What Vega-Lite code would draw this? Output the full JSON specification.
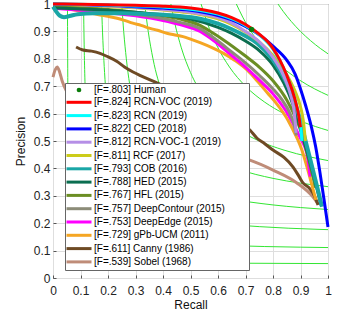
{
 "$schema": "https://vega.github.io/schema/vega-lite/v6.json",
 "width": 275,
 "height": 274,
 "autosize": {"type": "none"},
 "padding": {"left": 53, "top": 4, "right": 31, "bottom": 33},
 "config": {
  "view": {"stroke": "#555555", "strokeWidth": 1},
  "font": "Liberation Sans",
  "axis": {"labelFont": "Liberation Sans", "titleFont": "Liberation Sans", "labelFontSize": 12, "titleFontSize": 12, "titleFontWeight": "normal", "labelColor": "#222222", "titleColor": "#111111", "gridColor": "#dedede", "domain": false, "tickColor": "#555555", "tickSize": -3, "labelFlush": false, "labelOverlap": false, "tickCount": 11}
 },
 "datasets": {
  "iso": [
   {"f":0.1,"r":0.0526,"p":1},{"f":0.1,"r":0.0539,"p":0.7},{"f":0.1,"r":0.0563,"p":0.45},{"f":0.1,"r":0.0593,"p":0.32},{"f":0.1,"r":0.0625,"p":0.25},{"f":0.1,"r":0.0667,"p":0.2},{"f":0.1,"r":0.0727,"p":0.16},{"f":0.1,"r":0.0794,"p":0.135},{"f":0.1,"r":0.0885,"p":0.115},{"f":0.1,"r":0.1,"p":0.1},{"f":0.1,"r":0.115,"p":0.0885},{"f":0.1,"r":0.135,"p":0.0794},{"f":0.1,"r":0.16,"p":0.0727},{"f":0.1,"r":0.2,"p":0.0667},{"f":0.1,"r":0.25,"p":0.0625},{"f":0.1,"r":0.32,"p":0.0593},{"f":0.1,"r":0.45,"p":0.0563},{"f":0.1,"r":0.7,"p":0.0539},{"f":0.1,"r":1,"p":0.0526},
   {"f":0.2,"r":0.1111,"p":1},{"f":0.2,"r":0.1125,"p":0.9},{"f":0.2,"r":0.1185,"p":0.64},{"f":0.2,"r":0.125,"p":0.5},{"f":0.2,"r":0.1333,"p":0.4},{"f":0.2,"r":0.1455,"p":0.32},{"f":0.2,"r":0.1588,"p":0.27},{"f":0.2,"r":0.1769,"p":0.23},{"f":0.2,"r":0.2,"p":0.2},{"f":0.2,"r":0.23,"p":0.1769},{"f":0.2,"r":0.27,"p":0.1588},{"f":0.2,"r":0.32,"p":0.1455},{"f":0.2,"r":0.4,"p":0.1333},{"f":0.2,"r":0.5,"p":0.125},{"f":0.2,"r":0.64,"p":0.1185},{"f":0.2,"r":0.9,"p":0.1125},{"f":0.2,"r":1,"p":0.1111},
   {"f":0.3,"r":0.1765,"p":1},{"f":0.3,"r":0.1778,"p":0.96},{"f":0.3,"r":0.1875,"p":0.75},{"f":0.3,"r":0.2,"p":0.6},{"f":0.3,"r":0.2182,"p":0.48},{"f":0.3,"r":0.2382,"p":0.405},{"f":0.3,"r":0.2654,"p":0.345},{"f":0.3,"r":0.3,"p":0.3},{"f":0.3,"r":0.345,"p":0.2654},{"f":0.3,"r":0.405,"p":0.2382},{"f":0.3,"r":0.48,"p":0.2182},{"f":0.3,"r":0.6,"p":0.2},{"f":0.3,"r":0.75,"p":0.1875},{"f":0.3,"r":0.96,"p":0.1778},{"f":0.3,"r":1,"p":0.1765},
   {"f":0.4,"r":0.25,"p":1},{"f":0.4,"r":0.2571,"p":0.9},{"f":0.4,"r":0.2667,"p":0.8},{"f":0.4,"r":0.2909,"p":0.64},{"f":0.4,"r":0.3176,"p":0.54},{"f":0.4,"r":0.3538,"p":0.46},{"f":0.4,"r":0.4,"p":0.4},{"f":0.4,"r":0.46,"p":0.3538},{"f":0.4,"r":0.54,"p":0.3176},{"f":0.4,"r":0.64,"p":0.2909},{"f":0.4,"r":0.8,"p":0.2667},{"f":0.4,"r":0.9,"p":0.2571},{"f":0.4,"r":1,"p":0.25},
   {"f":0.5,"r":0.3333,"p":1},{"f":0.5,"r":0.3462,"p":0.9},{"f":0.5,"r":0.3636,"p":0.8},{"f":0.5,"r":0.3971,"p":0.675},{"f":0.5,"r":0.4423,"p":0.575},{"f":0.5,"r":0.5,"p":0.5},{"f":0.5,"r":0.575,"p":0.4423},{"f":0.5,"r":0.675,"p":0.3971},{"f":0.5,"r":0.8,"p":0.3636},{"f":0.5,"r":0.9,"p":0.3462},{"f":0.5,"r":1,"p":0.3333},
   {"f":0.6,"r":0.4286,"p":1},{"f":0.6,"r":0.4429,"p":0.93},{"f":0.6,"r":0.4667,"p":0.84},{"f":0.6,"r":0.5,"p":0.75},{"f":0.6,"r":0.55,"p":0.66},{"f":0.6,"r":0.6,"p":0.6},{"f":0.6,"r":0.66,"p":0.55},{"f":0.6,"r":0.75,"p":0.5},{"f":0.6,"r":0.84,"p":0.4667},{"f":0.6,"r":0.93,"p":0.4429},{"f":0.6,"r":1,"p":0.4286},
   {"f":0.7,"r":0.5385,"p":1},{"f":0.7,"r":0.5688,"p":0.91},{"f":0.7,"r":0.6,"p":0.84},{"f":0.7,"r":0.6417,"p":0.77},{"f":0.7,"r":0.7,"p":0.7},{"f":0.7,"r":0.77,"p":0.6417},{"f":0.7,"r":0.84,"p":0.6},{"f":0.7,"r":0.91,"p":0.5688},{"f":0.7,"r":1,"p":0.5385},
   {"f":0.8,"r":0.6667,"p":1},{"f":0.8,"r":0.6899,"p":0.952},{"f":0.8,"r":0.7226,"p":0.896},{"f":0.8,"r":0.7571,"p":0.848},{"f":0.8,"r":0.8,"p":0.8},{"f":0.8,"r":0.848,"p":0.7571},{"f":0.8,"r":0.896,"p":0.7226},{"f":0.8,"r":0.952,"p":0.6899},{"f":0.8,"r":1,"p":0.6667},
   {"f":0.9,"r":0.8182,"p":1},{"f":0.9,"r":0.8379,"p":0.972},{"f":0.9,"r":0.8667,"p":0.936},{"f":0.9,"r":0.9,"p":0.9},{"f":0.9,"r":0.936,"p":0.8667},{"f":0.9,"r":0.972,"p":0.8379},{"f":0.9,"r":1,"p":0.8182}
  ],
  "pr": [
   {"n":"[F=.539] Sobel (1968)","r":0,"p":0.733},{"n":"[F=.539] Sobel (1968)","r":0.008,"p":0.76},{"n":"[F=.539] Sobel (1968)","r":0.015,"p":0.77},{"n":"[F=.539] Sobel (1968)","r":0.024,"p":0.752},{"n":"[F=.539] Sobel (1968)","r":0.033,"p":0.72},{"n":"[F=.539] Sobel (1968)","r":0.05,"p":0.68},{"n":"[F=.539] Sobel (1968)","r":0.1,"p":0.62},{"n":"[F=.539] Sobel (1968)","r":0.2,"p":0.56},{"n":"[F=.539] Sobel (1968)","r":0.3,"p":0.525},{"n":"[F=.539] Sobel (1968)","r":0.4,"p":0.5},{"n":"[F=.539] Sobel (1968)","r":0.5,"p":0.48},{"n":"[F=.539] Sobel (1968)","r":0.6,"p":0.46},{"n":"[F=.539] Sobel (1968)","r":0.716,"p":0.43},{"n":"[F=.539] Sobel (1968)","r":0.8,"p":0.394},{"n":"[F=.539] Sobel (1968)","r":0.887,"p":0.347},{"n":"[F=.539] Sobel (1968)","r":0.945,"p":0.296},{"n":"[F=.539] Sobel (1968)","r":0.964,"p":0.27},
   {"n":"[F=.611] Canny (1986)","r":0.084,"p":0.843},{"n":"[F=.611] Canny (1986)","r":0.109,"p":0.832},{"n":"[F=.611] Canny (1986)","r":0.14,"p":0.828},{"n":"[F=.611] Canny (1986)","r":0.171,"p":0.82},{"n":"[F=.611] Canny (1986)","r":0.2,"p":0.807},{"n":"[F=.611] Canny (1986)","r":0.233,"p":0.79},{"n":"[F=.611] Canny (1986)","r":0.26,"p":0.77},{"n":"[F=.611] Canny (1986)","r":0.291,"p":0.752},{"n":"[F=.611] Canny (1986)","r":0.32,"p":0.738},{"n":"[F=.611] Canny (1986)","r":0.353,"p":0.723},{"n":"[F=.611] Canny (1986)","r":0.378,"p":0.712},{"n":"[F=.611] Canny (1986)","r":0.45,"p":0.68},{"n":"[F=.611] Canny (1986)","r":0.55,"p":0.63},{"n":"[F=.611] Canny (1986)","r":0.65,"p":0.575},{"n":"[F=.611] Canny (1986)","r":0.716,"p":0.54},{"n":"[F=.611] Canny (1986)","r":0.742,"p":0.51},{"n":"[F=.611] Canny (1986)","r":0.77,"p":0.49},{"n":"[F=.611] Canny (1986)","r":0.8,"p":0.467},{"n":"[F=.611] Canny (1986)","r":0.84,"p":0.44},{"n":"[F=.611] Canny (1986)","r":0.873,"p":0.405},{"n":"[F=.611] Canny (1986)","r":0.895,"p":0.37},{"n":"[F=.611] Canny (1986)","r":0.909,"p":0.347},{"n":"[F=.611] Canny (1986)","r":0.93,"p":0.33},{"n":"[F=.611] Canny (1986)","r":0.945,"p":0.31},{"n":"[F=.611] Canny (1986)","r":0.955,"p":0.29},{"n":"[F=.611] Canny (1986)","r":0.964,"p":0.266},
   {"n":"[F=.729] gPb-UCM (2011)","r":0.02,"p":1},{"n":"[F=.729] gPb-UCM (2011)","r":0.036,"p":0.99},{"n":"[F=.729] gPb-UCM (2011)","r":0.07,"p":0.98},{"n":"[F=.729] gPb-UCM (2011)","r":0.109,"p":0.972},{"n":"[F=.729] gPb-UCM (2011)","r":0.14,"p":0.966},{"n":"[F=.729] gPb-UCM (2011)","r":0.171,"p":0.96},{"n":"[F=.729] gPb-UCM (2011)","r":0.2,"p":0.955},{"n":"[F=.729] gPb-UCM (2011)","r":0.233,"p":0.948},{"n":"[F=.729] gPb-UCM (2011)","r":0.26,"p":0.94},{"n":"[F=.729] gPb-UCM (2011)","r":0.29,"p":0.93},{"n":"[F=.729] gPb-UCM (2011)","r":0.32,"p":0.922},{"n":"[F=.729] gPb-UCM (2011)","r":0.353,"p":0.911},{"n":"[F=.729] gPb-UCM (2011)","r":0.38,"p":0.904},{"n":"[F=.729] gPb-UCM (2011)","r":0.414,"p":0.893},{"n":"[F=.729] gPb-UCM (2011)","r":0.44,"p":0.888},{"n":"[F=.729] gPb-UCM (2011)","r":0.473,"p":0.881},{"n":"[F=.729] gPb-UCM (2011)","r":0.5,"p":0.872},{"n":"[F=.729] gPb-UCM (2011)","r":0.535,"p":0.859},{"n":"[F=.729] gPb-UCM (2011)","r":0.58,"p":0.84},{"n":"[F=.729] gPb-UCM (2011)","r":0.62,"p":0.82},{"n":"[F=.729] gPb-UCM (2011)","r":0.66,"p":0.795},{"n":"[F=.729] gPb-UCM (2011)","r":0.705,"p":0.76},{"n":"[F=.729] gPb-UCM (2011)","r":0.746,"p":0.715},{"n":"[F=.729] gPb-UCM (2011)","r":0.78,"p":0.675},{"n":"[F=.729] gPb-UCM (2011)","r":0.81,"p":0.64},{"n":"[F=.729] gPb-UCM (2011)","r":0.836,"p":0.605},{"n":"[F=.729] gPb-UCM (2011)","r":0.855,"p":0.575},{"n":"[F=.729] gPb-UCM (2011)","r":0.873,"p":0.54},{"n":"[F=.729] gPb-UCM (2011)","r":0.89,"p":0.505},{"n":"[F=.729] gPb-UCM (2011)","r":0.905,"p":0.467},{"n":"[F=.729] gPb-UCM (2011)","r":0.925,"p":0.4},{"n":"[F=.729] gPb-UCM (2011)","r":0.94,"p":0.345},{"n":"[F=.729] gPb-UCM (2011)","r":0.956,"p":0.285},
   {"n":"[F=.753] DeepEdge (2015)","r":0,"p":0.985},{"n":"[F=.753] DeepEdge (2015)","r":0.1,"p":0.977},{"n":"[F=.753] DeepEdge (2015)","r":0.2,"p":0.968},{"n":"[F=.753] DeepEdge (2015)","r":0.3,"p":0.957},{"n":"[F=.753] DeepEdge (2015)","r":0.4,"p":0.94},{"n":"[F=.753] DeepEdge (2015)","r":0.462,"p":0.925},{"n":"[F=.753] DeepEdge (2015)","r":0.535,"p":0.9},{"n":"[F=.753] DeepEdge (2015)","r":0.585,"p":0.866},{"n":"[F=.753] DeepEdge (2015)","r":0.65,"p":0.812},{"n":"[F=.753] DeepEdge (2015)","r":0.7,"p":0.77},{"n":"[F=.753] DeepEdge (2015)","r":0.75,"p":0.722},{"n":"[F=.753] DeepEdge (2015)","r":0.8,"p":0.672},{"n":"[F=.753] DeepEdge (2015)","r":0.818,"p":0.65},{"n":"[F=.753] DeepEdge (2015)","r":0.85,"p":0.605},{"n":"[F=.753] DeepEdge (2015)","r":0.88,"p":0.55},{"n":"[F=.753] DeepEdge (2015)","r":0.9,"p":0.51},{"n":"[F=.753] DeepEdge (2015)","r":0.915,"p":0.48},{"n":"[F=.753] DeepEdge (2015)","r":0.923,"p":0.455},{"n":"[F=.753] DeepEdge (2015)","r":0.93,"p":0.41},{"n":"[F=.753] DeepEdge (2015)","r":0.935,"p":0.37},
   {"n":"[F=.757] DeepContour (2015)","r":0,"p":0.99},{"n":"[F=.757] DeepContour (2015)","r":0.1,"p":0.983},{"n":"[F=.757] DeepContour (2015)","r":0.2,"p":0.973},{"n":"[F=.757] DeepContour (2015)","r":0.3,"p":0.962},{"n":"[F=.757] DeepContour (2015)","r":0.4,"p":0.947},{"n":"[F=.757] DeepContour (2015)","r":0.462,"p":0.933},{"n":"[F=.757] DeepContour (2015)","r":0.535,"p":0.91},{"n":"[F=.757] DeepContour (2015)","r":0.59,"p":0.872},{"n":"[F=.757] DeepContour (2015)","r":0.65,"p":0.825},{"n":"[F=.757] DeepContour (2015)","r":0.7,"p":0.785},{"n":"[F=.757] DeepContour (2015)","r":0.75,"p":0.74},{"n":"[F=.757] DeepContour (2015)","r":0.8,"p":0.69},{"n":"[F=.757] DeepContour (2015)","r":0.833,"p":0.65},{"n":"[F=.757] DeepContour (2015)","r":0.86,"p":0.605},{"n":"[F=.757] DeepContour (2015)","r":0.875,"p":0.565},{"n":"[F=.757] DeepContour (2015)","r":0.885,"p":0.52},
   {"n":"[F=.767] HFL (2015)","r":0,"p":0.99},{"n":"[F=.767] HFL (2015)","r":0.1,"p":0.987},{"n":"[F=.767] HFL (2015)","r":0.2,"p":0.98},{"n":"[F=.767] HFL (2015)","r":0.3,"p":0.97},{"n":"[F=.767] HFL (2015)","r":0.4,"p":0.957},{"n":"[F=.767] HFL (2015)","r":0.462,"p":0.945},{"n":"[F=.767] HFL (2015)","r":0.535,"p":0.922},{"n":"[F=.767] HFL (2015)","r":0.58,"p":0.895},{"n":"[F=.767] HFL (2015)","r":0.62,"p":0.869},{"n":"[F=.767] HFL (2015)","r":0.7,"p":0.81},{"n":"[F=.767] HFL (2015)","r":0.75,"p":0.77},{"n":"[F=.767] HFL (2015)","r":0.8,"p":0.72},{"n":"[F=.767] HFL (2015)","r":0.85,"p":0.65},{"n":"[F=.767] HFL (2015)","r":0.88,"p":0.59},{"n":"[F=.767] HFL (2015)","r":0.9,"p":0.54},{"n":"[F=.767] HFL (2015)","r":0.92,"p":0.47},{"n":"[F=.767] HFL (2015)","r":0.94,"p":0.39},{"n":"[F=.767] HFL (2015)","r":0.955,"p":0.33},
   {"n":"[F=.788] HED (2015)","r":0,"p":0.985},{"n":"[F=.788] HED (2015)","r":0.1,"p":0.982},{"n":"[F=.788] HED (2015)","r":0.2,"p":0.977},{"n":"[F=.788] HED (2015)","r":0.3,"p":0.97},{"n":"[F=.788] HED (2015)","r":0.4,"p":0.96},{"n":"[F=.788] HED (2015)","r":0.5,"p":0.945},{"n":"[F=.788] HED (2015)","r":0.6,"p":0.915},{"n":"[F=.788] HED (2015)","r":0.65,"p":0.893},{"n":"[F=.788] HED (2015)","r":0.7,"p":0.865},{"n":"[F=.788] HED (2015)","r":0.75,"p":0.83},{"n":"[F=.788] HED (2015)","r":0.8,"p":0.777},{"n":"[F=.788] HED (2015)","r":0.84,"p":0.71},{"n":"[F=.788] HED (2015)","r":0.87,"p":0.64},{"n":"[F=.788] HED (2015)","r":0.89,"p":0.58},{"n":"[F=.788] HED (2015)","r":0.91,"p":0.51},{"n":"[F=.788] HED (2015)","r":0.93,"p":0.44},{"n":"[F=.788] HED (2015)","r":0.95,"p":0.365},{"n":"[F=.788] HED (2015)","r":0.965,"p":0.305},{"n":"[F=.788] HED (2015)","r":0.975,"p":0.265},
   {"n":"[F=.793] COB (2016)","r":0,"p":0.99},{"n":"[F=.793] COB (2016)","r":0.01,"p":0.975},{"n":"[F=.793] COB (2016)","r":0.025,"p":0.957},{"n":"[F=.793] COB (2016)","r":0.04,"p":0.952},{"n":"[F=.793] COB (2016)","r":0.06,"p":0.956},{"n":"[F=.793] COB (2016)","r":0.09,"p":0.963},{"n":"[F=.793] COB (2016)","r":0.15,"p":0.966},{"n":"[F=.793] COB (2016)","r":0.25,"p":0.966},{"n":"[F=.793] COB (2016)","r":0.35,"p":0.963},{"n":"[F=.793] COB (2016)","r":0.45,"p":0.957},{"n":"[F=.793] COB (2016)","r":0.535,"p":0.946},{"n":"[F=.793] COB (2016)","r":0.6,"p":0.928},{"n":"[F=.793] COB (2016)","r":0.65,"p":0.908},{"n":"[F=.793] COB (2016)","r":0.7,"p":0.883},{"n":"[F=.793] COB (2016)","r":0.742,"p":0.857},{"n":"[F=.793] COB (2016)","r":0.8,"p":0.795},{"n":"[F=.793] COB (2016)","r":0.836,"p":0.737},{"n":"[F=.793] COB (2016)","r":0.87,"p":0.665},{"n":"[F=.793] COB (2016)","r":0.89,"p":0.607},{"n":"[F=.793] COB (2016)","r":0.905,"p":0.555},{"n":"[F=.793] COB (2016)","r":0.916,"p":0.51},{"n":"[F=.793] COB (2016)","r":0.935,"p":0.435},{"n":"[F=.793] COB (2016)","r":0.95,"p":0.375},{"n":"[F=.793] COB (2016)","r":0.965,"p":0.315},{"n":"[F=.793] COB (2016)","r":0.978,"p":0.26},
   {"n":"[F=.811] RCF (2017)","r":0,"p":1},{"n":"[F=.811] RCF (2017)","r":0.1,"p":0.996},{"n":"[F=.811] RCF (2017)","r":0.2,"p":0.991},{"n":"[F=.811] RCF (2017)","r":0.3,"p":0.986},{"n":"[F=.811] RCF (2017)","r":0.4,"p":0.978},{"n":"[F=.811] RCF (2017)","r":0.47,"p":0.971},{"n":"[F=.811] RCF (2017)","r":0.535,"p":0.962},{"n":"[F=.811] RCF (2017)","r":0.6,"p":0.946},{"n":"[F=.811] RCF (2017)","r":0.65,"p":0.926},{"n":"[F=.811] RCF (2017)","r":0.7,"p":0.898},{"n":"[F=.811] RCF (2017)","r":0.75,"p":0.862},{"n":"[F=.811] RCF (2017)","r":0.8,"p":0.812},{"n":"[F=.811] RCF (2017)","r":0.85,"p":0.742},{"n":"[F=.811] RCF (2017)","r":0.88,"p":0.682},{"n":"[F=.811] RCF (2017)","r":0.9,"p":0.625},{"n":"[F=.811] RCF (2017)","r":0.91,"p":0.575},{"n":"[F=.811] RCF (2017)","r":0.918,"p":0.5},
   {"n":"[F=.812] RCN-VOC-1 (2019)","r":0,"p":1},{"n":"[F=.812] RCN-VOC-1 (2019)","r":0.1,"p":0.997},{"n":"[F=.812] RCN-VOC-1 (2019)","r":0.2,"p":0.993},{"n":"[F=.812] RCN-VOC-1 (2019)","r":0.3,"p":0.988},{"n":"[F=.812] RCN-VOC-1 (2019)","r":0.4,"p":0.98},{"n":"[F=.812] RCN-VOC-1 (2019)","r":0.5,"p":0.97},{"n":"[F=.812] RCN-VOC-1 (2019)","r":0.6,"p":0.95},{"n":"[F=.812] RCN-VOC-1 (2019)","r":0.65,"p":0.93},{"n":"[F=.812] RCN-VOC-1 (2019)","r":0.7,"p":0.9},{"n":"[F=.812] RCN-VOC-1 (2019)","r":0.75,"p":0.862},{"n":"[F=.812] RCN-VOC-1 (2019)","r":0.8,"p":0.805},{"n":"[F=.812] RCN-VOC-1 (2019)","r":0.84,"p":0.735},{"n":"[F=.812] RCN-VOC-1 (2019)","r":0.865,"p":0.665},{"n":"[F=.812] RCN-VOC-1 (2019)","r":0.878,"p":0.6},{"n":"[F=.812] RCN-VOC-1 (2019)","r":0.884,"p":0.53},
   {"n":"[F=.822] CED (2018)","r":0,"p":1},{"n":"[F=.822] CED (2018)","r":0.1,"p":0.998},{"n":"[F=.822] CED (2018)","r":0.2,"p":0.995},{"n":"[F=.822] CED (2018)","r":0.3,"p":0.99},{"n":"[F=.822] CED (2018)","r":0.4,"p":0.985},{"n":"[F=.822] CED (2018)","r":0.5,"p":0.977},{"n":"[F=.822] CED (2018)","r":0.55,"p":0.969},{"n":"[F=.822] CED (2018)","r":0.6,"p":0.958},{"n":"[F=.822] CED (2018)","r":0.65,"p":0.942},{"n":"[F=.822] CED (2018)","r":0.7,"p":0.918},{"n":"[F=.822] CED (2018)","r":0.75,"p":0.888},{"n":"[F=.822] CED (2018)","r":0.8,"p":0.846},{"n":"[F=.822] CED (2018)","r":0.85,"p":0.795},{"n":"[F=.822] CED (2018)","r":0.88,"p":0.745},{"n":"[F=.822] CED (2018)","r":0.9,"p":0.69},{"n":"[F=.822] CED (2018)","r":0.92,"p":0.625},{"n":"[F=.822] CED (2018)","r":0.94,"p":0.55},{"n":"[F=.822] CED (2018)","r":0.955,"p":0.48},{"n":"[F=.822] CED (2018)","r":0.97,"p":0.39},{"n":"[F=.822] CED (2018)","r":0.985,"p":0.29},{"n":"[F=.822] CED (2018)","r":1,"p":0.186},
   {"n":"[F=.823] RCN (2019)","r":0,"p":1},{"n":"[F=.823] RCN (2019)","r":0.1,"p":0.999},{"n":"[F=.823] RCN (2019)","r":0.2,"p":0.996},{"n":"[F=.823] RCN (2019)","r":0.3,"p":0.993},{"n":"[F=.823] RCN (2019)","r":0.4,"p":0.989},{"n":"[F=.823] RCN (2019)","r":0.5,"p":0.981},{"n":"[F=.823] RCN (2019)","r":0.6,"p":0.963},{"n":"[F=.823] RCN (2019)","r":0.7,"p":0.922},{"n":"[F=.823] RCN (2019)","r":0.75,"p":0.888},{"n":"[F=.823] RCN (2019)","r":0.8,"p":0.835},{"n":"[F=.823] RCN (2019)","r":0.85,"p":0.74},{"n":"[F=.823] RCN (2019)","r":0.875,"p":0.67},{"n":"[F=.823] RCN (2019)","r":0.89,"p":0.61},{"n":"[F=.823] RCN (2019)","r":0.9,"p":0.56},{"n":"[F=.823] RCN (2019)","r":0.905,"p":0.5},
   {"n":"[F=.824] RCN-VOC (2019)","r":0,"p":1},{"n":"[F=.824] RCN-VOC (2019)","r":0.1,"p":0.999},{"n":"[F=.824] RCN-VOC (2019)","r":0.2,"p":0.997},{"n":"[F=.824] RCN-VOC (2019)","r":0.3,"p":0.995},{"n":"[F=.824] RCN-VOC (2019)","r":0.4,"p":0.992},{"n":"[F=.824] RCN-VOC (2019)","r":0.5,"p":0.985},{"n":"[F=.824] RCN-VOC (2019)","r":0.55,"p":0.978},{"n":"[F=.824] RCN-VOC (2019)","r":0.6,"p":0.967},{"n":"[F=.824] RCN-VOC (2019)","r":0.65,"p":0.95},{"n":"[F=.824] RCN-VOC (2019)","r":0.7,"p":0.925},{"n":"[F=.824] RCN-VOC (2019)","r":0.75,"p":0.89},{"n":"[F=.824] RCN-VOC (2019)","r":0.78,"p":0.863},{"n":"[F=.824] RCN-VOC (2019)","r":0.8,"p":0.838},{"n":"[F=.824] RCN-VOC (2019)","r":0.825,"p":0.795},{"n":"[F=.824] RCN-VOC (2019)","r":0.85,"p":0.74},{"n":"[F=.824] RCN-VOC (2019)","r":0.87,"p":0.685},{"n":"[F=.824] RCN-VOC (2019)","r":0.885,"p":0.632},{"n":"[F=.824] RCN-VOC (2019)","r":0.895,"p":0.585},{"n":"[F=.824] RCN-VOC (2019)","r":0.9,"p":0.55},
   {"n":"[F=.803] Human","r":0.722,"p":0.907}
  ]
 },
 "layer": [
  {
   "data": {"name": "iso"},
   "mark": {"type": "line", "color": "#33e633", "strokeWidth": 1, "interpolate": "monotone"},
   "encoding": {
    "x": {"field": "r", "type": "quantitative", "scale": {"domain": [0, 1], "nice": false, "zero": false}, "axis": {"title": "Recall", "values": [0,0.1,0.2,0.3,0.4,0.5,0.6,0.7,0.8,0.9,1], "format": "~g", "labelPadding": 10, "titlePadding": 3}},
    "y": {"field": "p", "type": "quantitative", "scale": {"domain": [0, 1], "nice": false, "zero": false}, "axis": {"title": "Precision", "values": [0,0.1,0.2,0.3,0.4,0.5,0.6,0.7,0.8,0.9,1], "format": "~g", "labelPadding": 6, "titlePadding": 6}},
    "detail": {"field": "f", "type": "nominal"}
   }
  },
  {
   "data": {"name": "pr"},
   "transform": [{"filter": "datum.n != '[F=.803] Human'"}],
   "mark": {"type": "line", "interpolate": "monotone"},
   "encoding": {
    "x": {"field": "r", "type": "quantitative"},
    "y": {"field": "p", "type": "quantitative"},
    "strokeWidth": {"condition": {"test": "datum.n == '[F=.793] COB (2016)'", "value": 4}, "value": 3},
    "color": {
     "field": "n", "type": "nominal",
     "scale": {
      "domain": ["[F=.803] Human","[F=.824] RCN-VOC (2019)","[F=.823] RCN (2019)","[F=.822] CED (2018)","[F=.812] RCN-VOC-1 (2019)","[F=.811] RCF (2017)","[F=.793] COB (2016)","[F=.788] HED (2015)","[F=.767] HFL (2015)","[F=.757] DeepContour (2015)","[F=.753] DeepEdge (2015)","[F=.729] gPb-UCM (2011)","[F=.611] Canny (1986)","[F=.539] Sobel (1968)"],
      "range": ["#0b7d0b","#ff0000","#00ffff","#0000ff","#b58ee6","#cccc1a","#1aa6a6","#0b6e50","#6b8e23","#8c8c78","#ff00ff","#f5a623","#6e4a24","#bf8c78"]
     },
     "legend": {
      "orient": "none", "legendX": 12, "legendY": 79,
      "title": "\u00a0", "titleOrient": "right", "titlePadding": 22, "titleFontSize": 2, "titleLimit": 0,
      "fillColor": "white", "strokeColor": "#666666", "padding": 2,
      "symbolType": "stroke", "symbolSize": 100, "symbolStrokeWidth": 3,
      "symbolOffset": 7, "labelOffset": 10, "rowPadding": 1.3,
      "labelFont": "Liberation Sans", "labelFontSize": 10, "labelColor": "#000000", "labelLimit": 0,
      "encode": {
       "symbols": {"update": {
        "shape": {"signal": "datum.value === '[F=.803] Human' ? 'circle' : 'stroke'"},
        "size": {"signal": "datum.value === '[F=.803] Human' ? 22 : 625"},
        "fill": {"signal": "datum.value === '[F=.803] Human' ? '#0b7d0b' : 'transparent'"},
        "strokeWidth": {"signal": "datum.value === '[F=.803] Human' ? 0 : 3"}
       }}
      }
     }
    }
   }
  },
  {
   "data": {"name": "pr"},
   "transform": [{"filter": "datum.n == '[F=.803] Human'"}],
   "mark": {"type": "point", "filled": true, "size": 30, "opacity": 1},
   "encoding": {
    "x": {"field": "r", "type": "quantitative"},
    "y": {"field": "p", "type": "quantitative"},
    "color": {"field": "n", "type": "nominal"}
   }
  }
 ]
}
